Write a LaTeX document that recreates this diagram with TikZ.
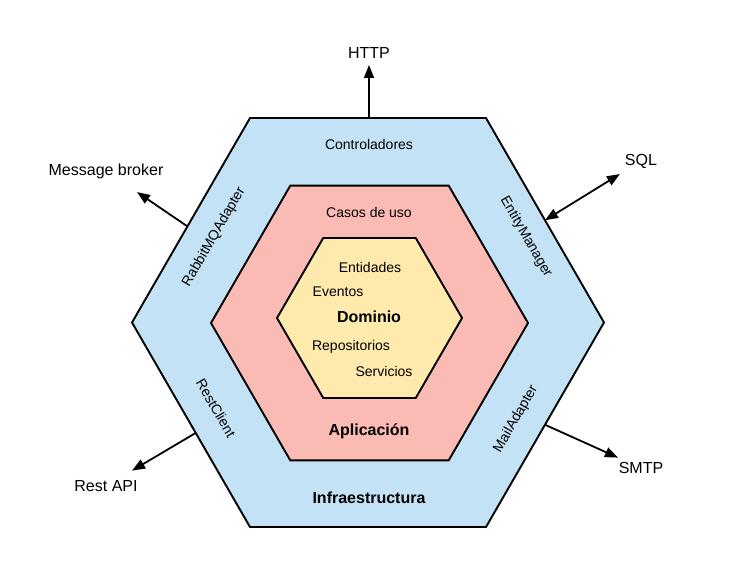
\documentclass[tikz,border=0pt]{standalone}
\usepackage{fontspec}
\setmainfont{Liberation Sans}
\usetikzlibrary{arrows.meta,calc}

\definecolor{infrablue}{RGB}{196,226,245}
\definecolor{apppink}{RGB}{250,187,181}
\definecolor{domyellow}{RGB}{254,234,173}

\begin{document}
\begin{tikzpicture}[x=1pt,y=-1pt,
  layer/.style={draw=black, line width=1.9pt, line join=miter},
  lbl/.style={font=\fontsize{14}{16}\selectfont, inner sep=0pt},
  ttl/.style={font=\fontsize{16}{18}\selectfont\bfseries, inner sep=0pt},
  ext/.style={font=\fontsize{16}{18}\selectfont, inner sep=0pt},
  link/.style={line width=1.8pt, -{Triangle[length=13pt,width=10pt]}},
  dlink/.style={line width=1.8pt, {Triangle[length=13pt,width=10pt]}-{Triangle[length=13pt,width=10pt]}}]
\useasboundingbox (0,0) rectangle (739,572);

% infrastructure ring
\draw[layer, fill=infrablue]
  (132,322.5) coordinate (oL) -- (250,118) coordinate (oTL) --
  (486,118) coordinate (oTR) -- (604,322.5) coordinate (oR) --
  (486,527) coordinate (oBR) -- (250,527) coordinate (oBL) -- cycle;

% application ring
\draw[layer, fill=apppink]
  (211,323) -- (290.25,185.7) -- (448.75,185.7) -- (528,323) --
  (448.75,460.3) -- (290.25,460.3) -- cycle;

% domain core
\draw[layer, fill=domyellow]
  (277,318) -- (323.25,238) -- (415.75,238) -- (462,318) --
  (415.75,398) -- (323.25,398) -- cycle;

% layer contents
\node[lbl] (ctrl) at (369,144) {Controladores};
\node[lbl, rotate=60] (rabbit) at (214,237) {RabbitMQAdapter};
\node[lbl, rotate=-60] (entity) at (526,237) {EntityManager};
\node[lbl, rotate=-60] (rest) at (216,408) {RestClient};
\node[lbl, rotate=60] (mail) at (516,419) {MailAdapter};
\node[ttl] (infra) at (369,498) {Infraestructura};

\node[lbl] (casos) at (369,212) {Casos de uso};
\node[ttl] (app) at (369,431) {Aplicación};

\node[lbl] (entidades) at (370,267) {Entidades};
\node[lbl] (eventos) at (338,292) {Eventos};
\node[ttl] (dominio) at (369,317) {Dominio};
\node[lbl] (repos) at (351,347) {Repositorios};
\node[lbl] (servicios) at (384,371) {Servicios};

% external systems
\node[ext] (http) at (369,53) {HTTP};
\node[ext] (broker) at (106,171) {Message broker};
\node[ext] (sql) at (641,161) {SQL};
\node[ext] (smtp) at (641,468) {SMTP};
\node[ext] (restapi) at (106,486) {Rest API};

% ports on the outer ring
\coordinate (httpport) at (369,118);
\coordinate (mqport) at ($(oL)!0.47!(oTL)$);
\coordinate (sqlport) at ($(oTR)!0.5!(oR)$);
\coordinate (smtpport) at ($(oR)!0.5!(oBR)$);
\coordinate (restport) at ($(oL)!0.54!(oBL)$);

% connections
\draw[link] (httpport) -- ($(httpport)!53pt!(http)$);
\draw[link] (mqport) -- ($(mqport)!61pt!(broker)$);
\draw[dlink] (sqlport) -- ($(sqlport)!88pt!(sql)$);
\draw[link] (smtpport) -- ($(smtpport)!80pt!(smtp)$);
\draw[link] (restport) -- ($(restport)!74pt!(restapi)$);
\end{tikzpicture}
\end{document}
